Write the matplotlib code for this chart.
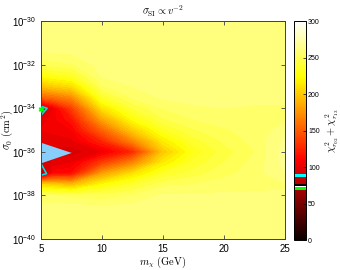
import numpy as np
import matplotlib
matplotlib.use('Agg')
import matplotlib.pyplot as plt
from matplotlib.ticker import FuncFormatter

plt.rcParams['font.family'] = ['Liberation Sans', 'DejaVu Sans']
plt.rcParams['mathtext.fontset'] = 'cm'

# grid of chi^2 values
masses = [5, 6, 7.5, 10, 12.5, 15, 17.5, 20, 22.5, 25]
log_sigma = [-40, -39, -38.5, -38, -37.5, -37, -36.5, -36, -35.5, -35,
             -34.5, -34, -33.5, -33, -32.5, -32, -31.5, -31, -30]

chi2_m5 = [261, 261, 260, 252, 205, 70, 91, 92, 96, 102, 97, 75, 152, 195, 224, 246, 257, 260, 261]
chi2_m6 = [261, 261, 260, 252, 200, 112, 97, 94, 98, 104, 106, 103, 158, 200, 230, 249, 258, 260, 261]
chi2_m7_5 = [261, 261, 260, 250, 192, 115, 102, 92, 100, 108, 118, 135, 170, 207, 235, 251, 258, 260, 261]
chi2_m10 = [261, 261, 258, 248, 222, 180, 135, 102, 125, 152, 182, 210, 235, 251, 259, 261, 261, 261, 261]
chi2_m12_5 = [261, 261, 260, 252, 237, 210, 168, 125, 168, 200, 224, 240, 253, 258, 260, 261, 261, 261, 261]
chi2_m15 = [261, 261, 261, 259, 250, 234, 215, 198, 215, 232, 245, 252, 259, 260, 261, 261, 261, 261, 261]
chi2_m17_5 = [261, 261, 261, 259, 252, 243, 236, 229, 237, 245, 252, 257, 260, 261, 261, 261, 261, 261, 261]
chi2_m20 = [261, 261, 261, 259, 255, 250, 246, 243, 247, 251, 255, 258, 260, 261, 261, 261, 261, 261, 261]
chi2_m22_5 = [261, 261, 261, 259, 256, 255, 254, 252, 254, 255, 256, 257, 260, 261, 261, 261, 261, 261, 261]
chi2_m25 = [261, 261, 261, 259, 257, 264, 266, 267, 265, 260, 257, 257, 260, 261, 261, 261, 261, 261, 261]

# light blue region at low mass
blue_m = [5, 7.52, 5]
blue_logsig = [-35.58, -36.05, -36.53]

# best fit point
best_m = [5.0]
best_logsig = [-34.05]

cyan_level = 89
# marks on the colour bar: (low, high, colour)
cbar_marks = [(87, 90.5, 'cyan'), (74.5, 76.5, 'black'), (72.5, 74.5, 'white'), (68, 72.5, 'lime')]

chi2 = np.column_stack([chi2_m5, chi2_m6, chi2_m7_5, chi2_m10, chi2_m12_5,
                        chi2_m15, chi2_m17_5, chi2_m20, chi2_m22_5, chi2_m25])
M, S = np.meshgrid(masses, log_sigma)

fig = plt.figure(figsize=(3.4, 2.7), dpi=100)
ax = fig.add_axes([0.1206, 0.1148, 0.7176, 0.807])
cax = fig.add_axes([0.865, 0.111, 0.035, 0.811])

levels = np.arange(0, 301, 6)
ax.contourf(M, S, chi2, levels=levels, cmap='hot', vmin=0, vmax=300)
ax.contour(M, S, chi2, levels=[cyan_level], colors='#00dde6', linewidths=1.2)
ax.fill(blue_m, blue_logsig, color='#87cefa', lw=0)
ax.plot(best_m, best_logsig, marker=(6, 2, 0), color='#00ff00', ms=4, mew=1.0,
        ls='none', clip_on=False, zorder=5)

ax.set_xlim(5, 25)
ax.set_ylim(-40, -30)
ax.set_xticks([5, 10, 15, 20, 25])
ax.set_yticks(range(-40, -29, 2))
ax.yaxis.set_major_formatter(FuncFormatter(lambda v, p: r'$\mathdefault{10^{%d}}$' % int(round(v))))
ax.tick_params(direction='in', length=3, width=0.6, labelsize=7, top=True, right=True,
               color='#404040')
for sp in ax.spines.values():
    sp.set_color('#404040')
    sp.set_linewidth(0.7)

ax.set_xlabel(r'$m_\chi\ (\mathrm{GeV})$', fontsize=7.5)
ax.xaxis.set_label_coords(0.5, -0.072)
ax.set_ylabel(r'$\sigma_0\ (\mathrm{cm}^2)$', fontsize=7.5)
ax.yaxis.set_label_coords(-0.105, 0.5)
ax.set_title(r'$\sigma_{\rm SI} \propto v^{-2}$', fontsize=7.5, pad=4)

sm = plt.cm.ScalarMappable(cmap='hot', norm=plt.Normalize(0, 300))
cbar = fig.colorbar(sm, cax=cax, ticks=range(0, 301, 50))
for lo, hi, col in cbar_marks:
    cax.axhspan(lo, hi, color=col, lw=0)
cax.tick_params(labelsize=5, length=2, width=0.5, direction='in', pad=1.5)
cbar.outline.set_linewidth(0.7)
cbar.set_label(r'$\chi^2_{r_{02}} + \chi^2_{r_{13}}$', fontsize=7.5)
cax.yaxis.set_label_coords(2.45, 0.5)

fig.savefig('out.png', dpi=100)
